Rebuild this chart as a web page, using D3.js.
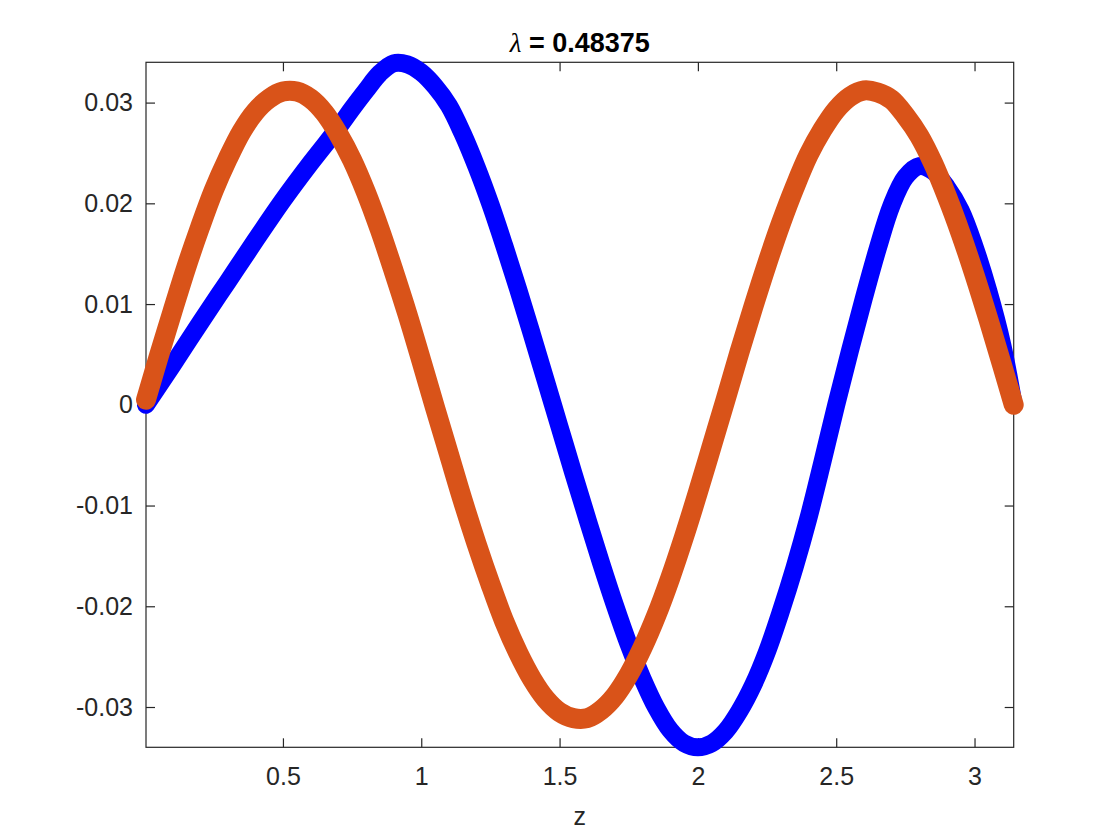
<!DOCTYPE html>
<html>
<head>
<meta charset="utf-8">
<script src="https://cdn.jsdelivr.net/npm/d3@7"></script>
<style>
  html, body { margin: 0; padding: 0; background: #ffffff; }
  svg { display: block; }
  text { font-family: "Liberation Sans", Arial, Helvetica, sans-serif; }
</style>
</head>
<body>
<svg id="chart" width="1120" height="840"></svg>
<script>
// ---- data ----
const titleSymbol = "λ";
const titleRest = " = 0.48375";
const xLabel = "z";
const xTicks = [0.5, 1, 1.5, 2, 2.5, 3];
const xTickLabels = ["0.5", "1", "1.5", "2", "2.5", "3"];
const yTicks = [-0.03, -0.02, -0.01, 0, 0.01, 0.02, 0.03];
const yTickLabels = ["-0.03", "-0.02", "-0.01", "0", "0.01", "0.02", "0.03"];
const xDomain = [0.005, 3.1416];
const yDomain = [-0.034, 0.034];

// blue series (star markers)
const blueZ = [0.005, 0.1, 0.2, 0.3, 0.4, 0.5, 0.6, 0.7, 0.75, 0.8, 0.85, 0.9, 0.95, 1.0, 1.05, 1.1, 1.15, 1.2, 1.25, 1.3, 1.35, 1.4, 1.45, 1.5, 1.55, 1.6, 1.65, 1.7, 1.75, 1.8, 1.85, 1.9, 1.95, 2.0, 2.05, 2.1, 2.15, 2.2, 2.25, 2.3, 2.35, 2.4, 2.45, 2.5, 2.55, 2.6, 2.65, 2.7, 2.75, 2.8, 2.85, 2.9, 2.95, 3.0, 3.05, 3.1, 3.1416];
const blueV = [0, 0.0039, 0.0081, 0.0122, 0.0163, 0.0203, 0.0240, 0.0275, 0.0294, 0.0312, 0.0329, 0.0339, 0.0338, 0.0330, 0.0316, 0.0297, 0.0269, 0.0236, 0.0199, 0.0158, 0.0115, 0.0070, 0.0024, -0.0022, -0.0068, -0.0113, -0.0157, -0.0199, -0.0238, -0.0272, -0.0301, -0.0323, -0.0336, -0.0340, -0.0336, -0.0324, -0.0304, -0.0278, -0.0245, -0.0205, -0.0161, -0.0112, -0.0057, 0.0000, 0.0054, 0.0106, 0.0155, 0.0198, 0.0226, 0.0237, 0.0232, 0.0216, 0.0193, 0.0157, 0.0113, 0.0060, 0];

// orange series (circle markers)
const orangeZ = [0.005, 0.05, 0.1, 0.15, 0.2, 0.25, 0.3, 0.35, 0.4, 0.45, 0.5, 0.55, 0.6, 0.65, 0.7, 0.75, 0.8, 0.85, 0.9, 0.95, 1.0, 1.05, 1.1, 1.15, 1.2, 1.25, 1.3, 1.35, 1.4, 1.45, 1.5, 1.55, 1.6, 1.65, 1.7, 1.75, 1.8, 1.85, 1.9, 1.95, 2.0, 2.05, 2.1, 2.15, 2.2, 2.25, 2.3, 2.35, 2.4, 2.45, 2.5, 2.55, 2.6, 2.65, 2.7, 2.75, 2.8, 2.85, 2.9, 2.95, 3.0, 3.05, 3.1, 3.1416];
const orangeV = [0.0005, 0.0047, 0.0092, 0.0136, 0.0176, 0.0213, 0.0244, 0.0271, 0.0291, 0.0304, 0.0311, 0.0311, 0.0304, 0.0290, 0.0269, 0.0243, 0.0211, 0.0174, 0.0133, 0.0090, 0.0044, -0.0003, -0.0049, -0.0095, -0.0138, -0.0178, -0.0215, -0.0246, -0.0272, -0.0292, -0.0305, -0.0311, -0.0311, -0.0303, -0.0289, -0.0268, -0.0241, -0.0209, -0.0172, -0.0131, -0.0087, -0.0041, 0.0005, 0.0052, 0.0097, 0.0140, 0.0180, 0.0216, 0.0248, 0.0273, 0.0293, 0.0306, 0.0312, 0.0310, 0.0303, 0.0287, 0.0267, 0.0240, 0.0207, 0.0170, 0.0129, 0.0085, 0.0039, 0];

// ---- layout ----
const svg = d3.select("#chart");
const mLeft = 146, mRight = 1013.7, mTop = 62.3, mBottom = 747.3;
const x = d3.scaleLinear().domain(xDomain).range([mLeft, mRight]);
const y = d3.scaleLinear().domain(yDomain).range([mBottom, mTop]);
const axisColor = "#262626";
const tickLen = 9;
const fontSize = 25;

svg.append("rect").attr("width", 1120).attr("height", 840).attr("fill", "#ffffff");

const gx = svg.append("g").attr("transform", `translate(0,${mBottom})`)
  .call(d3.axisBottom(x).tickValues(xTicks).tickFormat((d, i) => xTickLabels[i])
    .tickSizeInner(-tickLen).tickSizeOuter(0).tickPadding(20));
const gxTop = svg.append("g").attr("transform", `translate(0,${mTop})`)
  .call(d3.axisTop(x).tickValues(xTicks).tickFormat("").tickSizeInner(-tickLen).tickSizeOuter(0));
const gy = svg.append("g").attr("transform", `translate(${mLeft},0)`)
  .call(d3.axisLeft(y).tickValues(yTicks).tickFormat((d, i) => yTickLabels[i])
    .tickSizeInner(-tickLen).tickSizeOuter(0).tickPadding(13));
const gyRight = svg.append("g").attr("transform", `translate(${mRight},0)`)
  .call(d3.axisRight(y).tickValues(yTicks).tickFormat("").tickSizeInner(-tickLen).tickSizeOuter(0));

[gx, gxTop, gy, gyRight].forEach(g => {
  g.select(".domain").remove();
  g.selectAll(".tick line").attr("stroke", axisColor).attr("stroke-width", 1.2);
  g.selectAll(".tick text").attr("fill", axisColor).attr("font-size", fontSize)
    .attr("font-family", "'Liberation Sans', Arial, Helvetica, sans-serif");
});
gx.selectAll(".tick text").attr("dy", "0.71em");

svg.append("rect").attr("x", mLeft).attr("y", mTop)
  .attr("width", mRight - mLeft).attr("height", mBottom - mTop)
  .attr("fill", "none").attr("stroke", axisColor).attr("stroke-width", 1.2);

// series
const lineGen = d3.line().x(d => x(d[0])).y(d => y(d[1])).curve(d3.curveCatmullRom.alpha(0.5));
const blueData = blueZ.map((z, i) => [z, blueV[i]]);
const orangeData = orangeZ.map((z, i) => [z, orangeV[i]]);

svg.append("path").datum(blueData).attr("d", lineGen)
  .attr("fill", "none").attr("stroke", "#0000ff").attr("stroke-width", 18)
  .attr("stroke-linecap", "round").attr("stroke-linejoin", "round");

svg.append("path").datum(orangeData).attr("d", lineGen)
  .attr("fill", "none").attr("stroke", "#d95319").attr("stroke-width", 20)
  .attr("stroke-linecap", "round").attr("stroke-linejoin", "round");

// labels
const title = svg.append("text").attr("x", (mLeft + mRight) / 2).attr("y", 52)
  .attr("text-anchor", "middle").attr("font-size", 27).attr("font-weight", "bold")
  .attr("fill", "#000000");
title.append("tspan").attr("font-family", "'Liberation Serif', 'DejaVu Serif', serif")
  .attr("font-style", "italic").attr("font-weight", "normal").text(titleSymbol);
title.append("tspan").text(titleRest);

svg.append("text").attr("x", (mLeft + mRight) / 2).attr("y", 825)
  .attr("text-anchor", "middle").attr("font-size", fontSize)
  .attr("fill", axisColor).text(xLabel);
</script>
</body>
</html>
